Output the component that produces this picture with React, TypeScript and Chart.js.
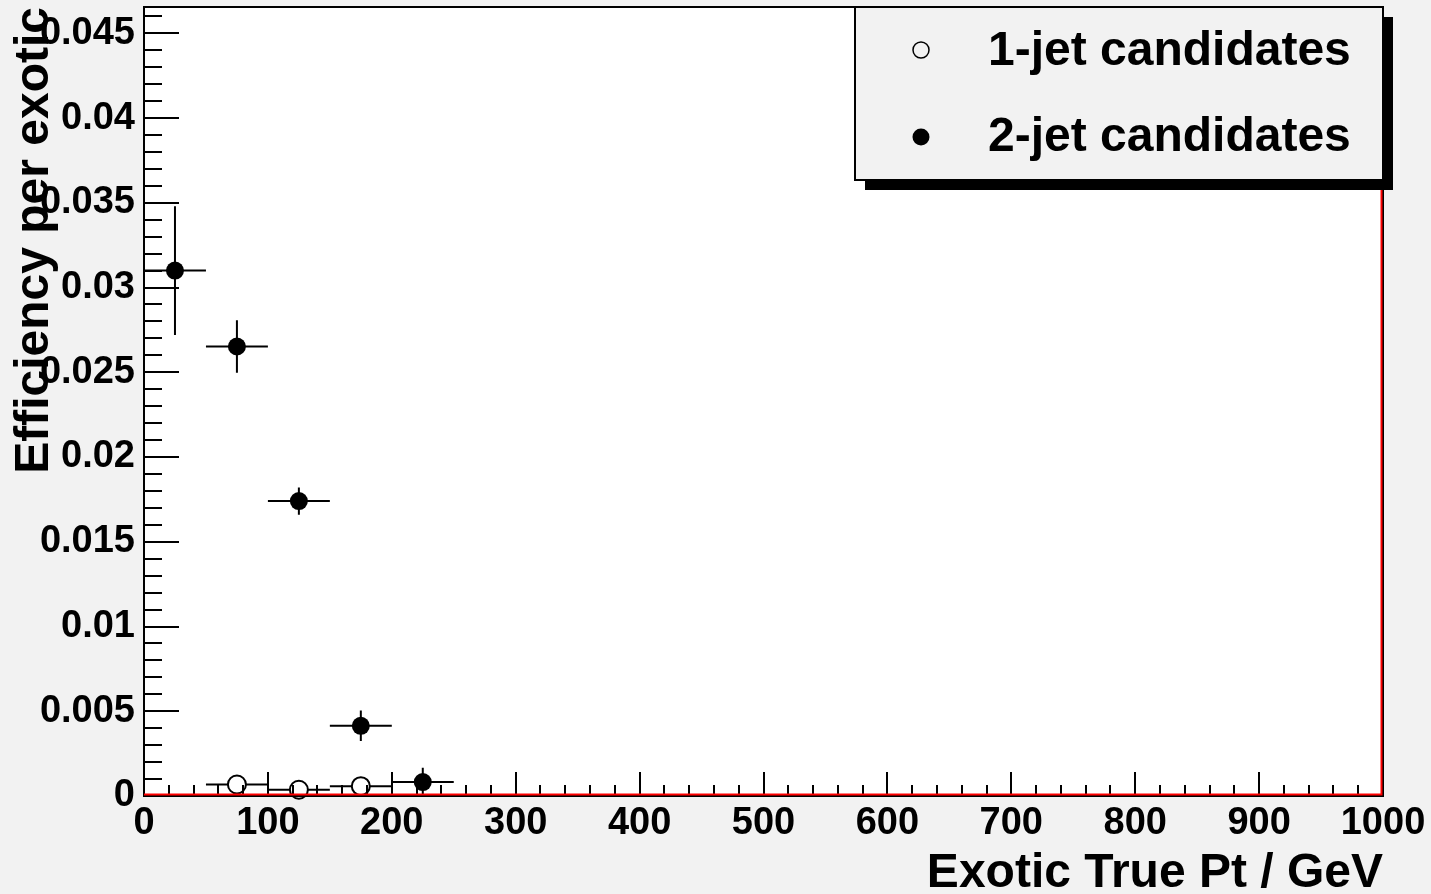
import React, { useEffect, useRef } from "react";
import { Chart, registerables } from "chart.js";

Chart.register(...registerables);

// Efficiency per exotic vs. true Pt, in 50 GeV bins
const binHalfWidth = 25;
const oneJetPt = [75, 125, 175];
const oneJetEff = [0.00068, 0.00037, 0.00058];
const oneJetErr = [0.0003, 0.0002, 0.0003];
const twoJetPt = [25, 75, 125, 175, 225];
const twoJetEff = [0.031, 0.02652, 0.0174, 0.00414, 0.00082];
const twoJetErr = [0.0038, 0.00155, 0.0008, 0.0009, 0.00084];

const xTickValues = [0, 100, 200, 300, 400, 500, 600, 700, 800, 900, 1000];
const yTickValues = [0, 0.005, 0.01, 0.015, 0.02, 0.025, 0.03, 0.035, 0.04, 0.045];
const xMin = 0;
const xMax = 1000;
const yMin = 0;
const yMax = 0.04655;

const legendLabels = ["1-jet candidates", "2-jet candidates"];
const xTitle = "Exotic True Pt / GeV";
const yTitle = "Efficiency per exotic";

const FONT = '"Liberation Sans", Arial, Helvetica, sans-serif';
const PAD_BG = "#f2f2f2";

const toPoints = (xs: number[], ys: number[], es: number[]) =>
  xs.map((x, i) => ({ x, y: ys[i], xErr: binHalfWidth, yErr: es[i] }));

const fmtTick = (v: number) => String(+Number(v).toFixed(3));

// Frame background: grey pad, white plotting area
const backgroundPlugin = {
  id: "padBackground",
  beforeDraw(chart: any) {
    const { ctx, chartArea: a } = chart;
    ctx.save();
    ctx.fillStyle = PAD_BG;
    ctx.fillRect(0, 0, chart.width, chart.height);
    ctx.fillStyle = "#ffffff";
    ctx.fillRect(a.left, a.top, a.right - a.left, a.bottom - a.top);
    ctx.restore();
  },
};

// Horizontal (bin width) and vertical (stat.) error bars
const errorBarPlugin = {
  id: "errorBars",
  beforeDatasetsDraw(chart: any) {
    const { ctx, chartArea: a } = chart;
    const xs = chart.scales.x;
    const ys = chart.scales.y;
    ctx.save();
    ctx.beginPath();
    ctx.rect(a.left, a.top, a.right - a.left, a.bottom - a.top);
    ctx.clip();
    ctx.strokeStyle = "#000";
    ctx.lineWidth = 2;
    chart.data.datasets.forEach((ds: any) => {
      ds.data.forEach((p: any) => {
        const px = xs.getPixelForValue(p.x);
        const py = ys.getPixelForValue(p.y);
        ctx.beginPath();
        ctx.moveTo(xs.getPixelForValue(p.x - p.xErr), py);
        ctx.lineTo(xs.getPixelForValue(p.x + p.xErr), py);
        ctx.moveTo(px, ys.getPixelForValue(Math.max(p.y - p.yErr, yMin)));
        ctx.lineTo(px, ys.getPixelForValue(p.y + p.yErr));
        ctx.stroke();
      });
    });
    ctx.restore();
  },
};

// Axis frame with inward major/minor ticks
const framePlugin = {
  id: "frameTicks",
  afterDatasetsDraw(chart: any) {
    const { ctx, chartArea: a } = chart;
    const xs = chart.scales.x;
    const ys = chart.scales.y;
    ctx.save();
    ctx.strokeStyle = "#000";
    ctx.lineWidth = 2;
    ctx.beginPath();
    // y ticks: major every 0.005, minor every 0.001
    for (let i = 0; i * 0.001 <= yMax + 1e-9; i++) {
      const py = Math.round(ys.getPixelForValue(i * 0.001));
      const len = i % 5 === 0 ? 35 : 18;
      ctx.moveTo(a.left, py);
      ctx.lineTo(a.left + len, py);
    }
    // x ticks: major every 100, minor every 20
    for (let i = 0; i * 20 <= xMax; i++) {
      const px = Math.round(xs.getPixelForValue(i * 20));
      const len = i % 5 === 0 ? 24 : 11;
      ctx.moveTo(px, a.bottom);
      ctx.lineTo(px, a.bottom - len);
    }
    ctx.stroke();
    ctx.strokeRect(a.left, a.top, a.right - a.left, a.bottom - a.top);
    // red outline along the bottom and right edges
    ctx.strokeStyle = "#ff0000";
    ctx.beginPath();
    ctx.moveTo(a.left, a.bottom - 1.5);
    ctx.lineTo(a.right - 1.5, a.bottom - 1.5);
    ctx.lineTo(a.right - 1.5, a.top);
    ctx.stroke();
    ctx.restore();
  },
};

// Axis titles and the boxed legend with drop shadow
const decorPlugin = {
  id: "decor",
  afterDraw(chart: any) {
    const { ctx, chartArea: a } = chart;
    ctx.save();
    ctx.fillStyle = "#000";
    ctx.font = `bold 48px ${FONT}`;
    ctx.textAlign = "right";
    ctx.textBaseline = "alphabetic";
    ctx.fillText(xTitle, a.right, 887);

    ctx.save();
    ctx.translate(48, 7);
    ctx.rotate(-Math.PI / 2);
    ctx.textAlign = "right";
    ctx.fillText(yTitle, 0, 0);
    ctx.restore();

    // legend
    const L = 855, T = 7, R = 1383, B = 180;
    ctx.fillStyle = "#000";
    ctx.fillRect(L + 10, T + 10, R - L, B - T);
    ctx.fillStyle = PAD_BG;
    ctx.fillRect(L, T, R - L, B - T);
    ctx.strokeStyle = "#000";
    ctx.lineWidth = 2;
    ctx.strokeRect(L, T, R - L, B - T);

    const rowY = [50, 137];
    ctx.beginPath();
    ctx.lineWidth = 1.5;
    ctx.arc(921, rowY[0], 8, 0, Math.PI * 2);
    ctx.stroke();
    ctx.beginPath();
    ctx.fillStyle = "#000";
    ctx.arc(921, rowY[1], 8.5, 0, Math.PI * 2);
    ctx.fill();

    ctx.font = `bold 48px ${FONT}`;
    ctx.textAlign = "left";
    ctx.textBaseline = "alphabetic";
    ctx.fillText(legendLabels[0], 988, 65);
    ctx.fillText(legendLabels[1], 988, 151);
    ctx.restore();
  },
};

export default function App() {
  const canvasRef = useRef<HTMLCanvasElement | null>(null);

  useEffect(() => {
    const canvas = canvasRef.current;
    if (!canvas) return;
    const tickFont = { family: FONT, size: 38, weight: "bold" as const };

    const chart = new Chart(canvas, {
      type: "scatter",
      data: {
        datasets: [
          {
            label: legendLabels[0],
            data: toPoints(oneJetPt, oneJetEff, oneJetErr),
            pointStyle: "circle",
            pointRadius: 9,
            pointBackgroundColor: "#ffffff",
            pointBorderColor: "#000000",
            pointBorderWidth: 2,
            showLine: false,
            clip: false as any,
          },
          {
            label: legendLabels[1],
            data: toPoints(twoJetPt, twoJetEff, twoJetErr),
            pointStyle: "circle",
            pointRadius: 9,
            pointBackgroundColor: "#000000",
            pointBorderColor: "#000000",
            pointBorderWidth: 0,
            showLine: false,
            clip: false as any,
          },
        ],
      },
      options: {
        responsive: false,
        animation: false,
        devicePixelRatio: 1,
        events: [],
        layout: { autoPadding: false, padding: { top: 7, right: 48, left: 0, bottom: 0 } },
        plugins: {
          legend: { display: false },
          tooltip: { enabled: false },
          title: { display: false },
        },
        scales: {
          x: {
            type: "linear",
            min: xMin,
            max: xMax,
            grid: { display: false, drawTicks: false },
            border: { display: false },
            afterBuildTicks: (scale: any) => {
              scale.ticks = xTickValues.map((v) => ({ value: v }));
            },
            afterFit: (scale: any) => {
              scale.height = 98;
              scale.paddingLeft = 0;
              scale.paddingRight = 0;
              scale.paddingTop = 0;
              scale.paddingBottom = 0;
            },
            ticks: {
              autoSkip: false,
              maxRotation: 0,
              minRotation: 0,
              padding: 5,
              color: "#000",
              font: tickFont,
              callback: (v: any) => fmtTick(v),
            },
          },
          y: {
            type: "linear",
            min: yMin,
            max: yMax,
            grid: { display: false, drawTicks: false },
            border: { display: false },
            afterBuildTicks: (scale: any) => {
              scale.ticks = yTickValues.map((v) => ({ value: v }));
            },
            afterFit: (scale: any) => {
              scale.width = 144;
              scale.paddingLeft = 0;
              scale.paddingRight = 0;
              scale.paddingTop = 0;
              scale.paddingBottom = 0;
            },
            ticks: {
              autoSkip: false,
              padding: 9,
              color: "#000",
              font: tickFont,
              callback: (v: any) => fmtTick(v),
            },
          },
        },
      },
      plugins: [backgroundPlugin, errorBarPlugin, framePlugin, decorPlugin],
    });

    return () => chart.destroy();
  }, []);

  return (
    <div
      style={{
        position: "fixed",
        left: 0,
        top: 0,
        width: 1431,
        height: 894,
        background: PAD_BG,
      }}
    >
      <canvas ref={canvasRef} width={1431} height={894} style={{ display: "block" }} />
    </div>
  );
}
